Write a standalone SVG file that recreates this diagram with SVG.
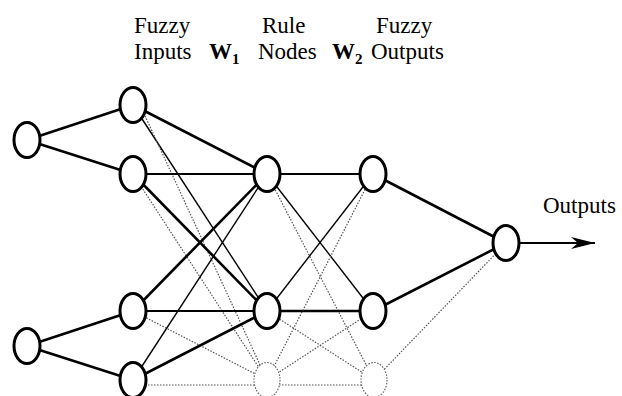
<svg xmlns="http://www.w3.org/2000/svg" width="622" height="396" viewBox="0 0 622 396">
<style>
.t{font-family:"Liberation Serif","Times New Roman",serif;font-size:23px;fill:#000}
.b{font-weight:bold}
.s{font-size:15px;font-weight:bold}
.n{fill:#fff;stroke:#000;stroke-width:3}
.nd{fill:#fff;stroke:#666;stroke-width:1.2;stroke-dasharray:1.5 1.5}
.k{stroke:#000;stroke-width:2.6;fill:none}
.m{stroke:#000;stroke-width:1.9;fill:none}
.h{stroke:#000;stroke-width:1.4;fill:none}
.d{stroke:#555;stroke-width:1.2;stroke-dasharray:1.5 1.5;fill:none}
</style>
<defs>
<marker id="arr" markerUnits="userSpaceOnUse" markerWidth="26" markerHeight="14" viewBox="-25 -7 26 14" refX="0" refY="0" orient="auto">
<path d="M0,0 L-24,-6 L-17,0 L-24,6 Z" fill="#000"/>
</marker>
</defs>
<g id="labels">
<text class="t" x="134" y="33">Fuzzy</text>
<text class="t" x="134" y="59">Inputs</text>
<text class="t b" x="209" y="59">W</text><text class="t s" x="232" y="64">1</text>
<text class="t" x="262" y="33">Rule</text>
<text class="t" x="258" y="59">Nodes</text>
<text class="t b" x="332" y="59">W</text><text class="t s" x="355" y="64">2</text>
<text class="t" x="376" y="33">Fuzzy</text>
<text class="t" x="371" y="59">Outputs</text>
<text class="t" x="543" y="213">Outputs</text>
</g>
<g id="connectors">
<line class="k" x1="27" y1="140" x2="133" y2="105"/>
<line class="k" x1="27" y1="140" x2="133" y2="174"/>
<line class="k" x1="27" y1="346" x2="133" y2="311"/>
<line class="k" x1="27" y1="346" x2="133" y2="380"/>
<line class="k" x1="133" y1="105" x2="267" y2="174"/>
<line class="h" x1="133" y1="105" x2="267" y2="311"/>
<line class="d" x1="140" y1="105" x2="267" y2="380"/>
<line class="m" x1="133" y1="174" x2="267" y2="174"/>
<line class="k" x1="133" y1="174" x2="267" y2="311"/>
<line class="d" x1="133" y1="174" x2="267" y2="380"/>
<line class="k" x1="133" y1="311" x2="267" y2="174"/>
<line class="m" x1="133" y1="311" x2="267" y2="311"/>
<line class="d" x1="133" y1="311" x2="267" y2="380"/>
<line class="h" x1="133" y1="380" x2="267" y2="174"/>
<line class="k" x1="133" y1="380" x2="267" y2="311"/>
<line class="d" x1="133" y1="385" x2="267" y2="385"/>
<line class="m" x1="267" y1="174" x2="373" y2="174"/>
<line class="h" x1="267" y1="174" x2="373" y2="311"/>
<line class="d" x1="267" y1="174" x2="374" y2="380"/>
<line class="h" x1="267" y1="311" x2="373" y2="174"/>
<line class="k" x1="267" y1="311" x2="373" y2="311"/>
<line class="d" x1="267" y1="311" x2="374" y2="380"/>
<line class="d" x1="267" y1="380" x2="373" y2="174"/>
<line class="d" x1="267" y1="380" x2="373" y2="311"/>
<line class="d" x1="267" y1="385" x2="374" y2="385"/>
<line class="k" x1="373" y1="174" x2="506" y2="243"/>
<line class="k" x1="373" y1="311" x2="506" y2="243"/>
<line class="d" x1="374" y1="380" x2="506" y2="243"/>
<line class="m" x1="519" y1="243" x2="595" y2="243" marker-end="url(#arr)"/>
</g>
<g id="in1"><ellipse class="n" cx="27" cy="140" rx="13" ry="17.5"/></g>
<g id="in2"><ellipse class="n" cx="27" cy="346" rx="13" ry="17.5"/></g>
<g id="fa"><ellipse class="n" cx="133" cy="105" rx="13" ry="17.5"/></g>
<g id="fb"><ellipse class="n" cx="133" cy="174" rx="13" ry="17.5"/></g>
<g id="fc"><ellipse class="n" cx="133" cy="311" rx="13" ry="17.5"/></g>
<g id="fd"><ellipse class="n" cx="133" cy="380" rx="13" ry="17.5"/></g>
<g id="r1"><ellipse class="n" cx="267" cy="174" rx="13" ry="17.5"/></g>
<g id="r2"><ellipse class="n" cx="267" cy="311" rx="13" ry="17.5"/></g>
<g id="r3"><ellipse class="nd" cx="267" cy="380" rx="13" ry="17.5"/></g>
<g id="o1"><ellipse class="n" cx="373" cy="174" rx="13" ry="17.5"/></g>
<g id="o2"><ellipse class="n" cx="373" cy="311" rx="13" ry="17.5"/></g>
<g id="o3"><ellipse class="nd" cx="374" cy="380" rx="13" ry="17.5"/></g>
<g id="out"><ellipse class="n" cx="506" cy="243" rx="13" ry="17.5"/></g>
</svg>
